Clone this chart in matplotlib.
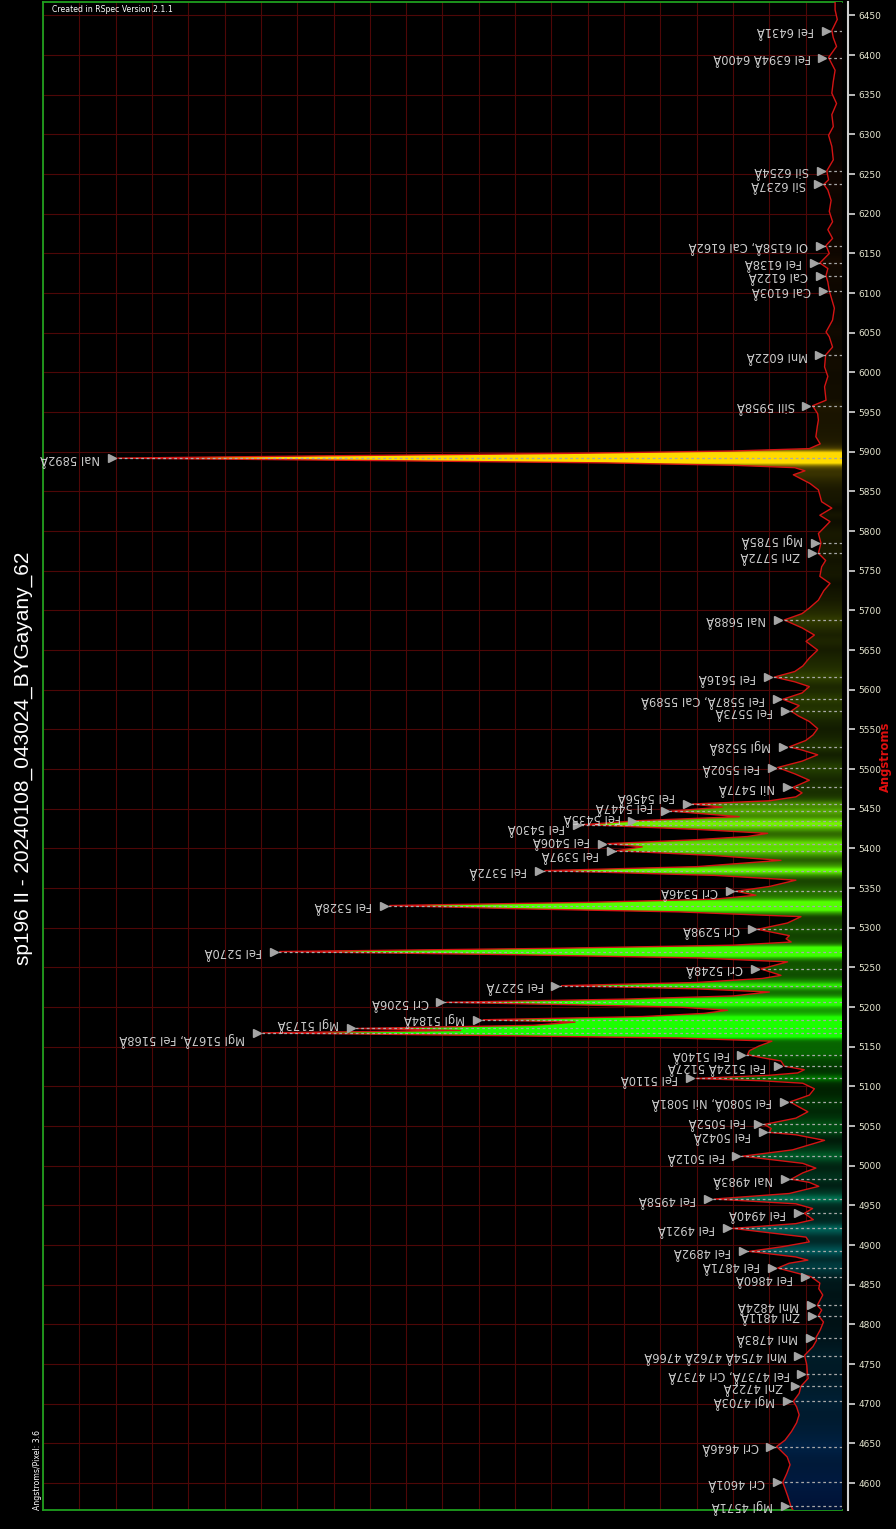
import numpy as np
import matplotlib
matplotlib.use("Agg")
import matplotlib.pyplot as plt
from matplotlib.patches import Polygon

# ---------------------------------------------------------------------------
# Spectrum profile: wavelength (Angstrom) and relative intensity
# ---------------------------------------------------------------------------
WAVELENGTH = [
    4566, 4571, 4583, 4601, 4612, 4623, 4633, 4646, 4654, 4665, 4676, 4686,
    4696, 4703, 4713, 4722, 4732, 4737, 4749, 4755, 4761, 4772, 4780, 4783,
    4793, 4803, 4811, 4818, 4824, 4837, 4845, 4852, 4860, 4865, 4871, 4877,
    4881, 4885, 4892, 4898, 4904, 4910, 4921, 4927, 4932, 4940, 4946, 4952,
    4958, 4965, 4974, 4979, 4983, 4991, 4997, 5003, 5012, 5020, 5032, 5039,
    5042, 5047, 5052, 5060, 5068, 5074, 5080.5, 5089, 5097, 5104, 5107, 5110,
    5114, 5117, 5121, 5125.5, 5132, 5136, 5140, 5145, 5151, 5157, 5161, 5164,
    5167.5, 5170.5, 5173, 5177, 5181, 5184, 5188, 5192, 5196, 5200, 5203,
    5206, 5210, 5214, 5219, 5223, 5227, 5231, 5236, 5240, 5248, 5257, 5262,
    5266, 5270, 5274, 5278, 5282, 5286, 5290, 5298, 5306, 5314, 5320, 5324,
    5328, 5332, 5336, 5341, 5346, 5352, 5360, 5366, 5372, 5377, 5385, 5391,
    5397, 5402, 5406, 5411, 5415, 5419, 5424, 5430, 5435, 5440, 5447, 5452,
    5456, 5460, 5465, 5470, 5477, 5486, 5494, 5502, 5510, 5518, 5524, 5528,
    5536, 5543, 5551, 5560, 5567, 5573, 5580, 5588, 5596, 5604, 5610, 5616,
    5623, 5630, 5640, 5650, 5661, 5669, 5678, 5688, 5696, 5703, 5713, 5725,
    5734, 5743, 5755, 5763, 5772, 5785, 5797, 5812, 5820, 5829, 5837, 5852,
    5860, 5871, 5876, 5880, 5883, 5886, 5889, 5892, 5895, 5898, 5901, 5904,
    5910, 5919, 5932, 5940, 5948, 5958, 5965, 5982, 5995, 6007, 6022, 6032,
    6045, 6051, 6066, 6081, 6095, 6103, 6114, 6122, 6131, 6138, 6150, 6160,
    6169, 6180, 6190, 6203, 6217, 6230, 6237, 6243, 6254, 6268, 6285, 6299,
    6310, 6325, 6339, 6352, 6367, 6381, 6397, 6411, 6422, 6431, 6445, 6457,
    6467,
]
INTENSITY = [
    0.135, 0.141, 0.149, 0.163, 0.152, 0.143, 0.151, 0.180, 0.157, 0.139, 0.125, 0.118,
    0.125, 0.134, 0.118, 0.113, 0.093, 0.095, 0.097, 0.100, 0.103, 0.080, 0.070, 0.072,
    0.060, 0.051, 0.065, 0.056, 0.068, 0.053, 0.064, 0.061, 0.085, 0.127, 0.177, 0.146,
    0.094, 0.127, 0.255, 0.163, 0.090, 0.099, 0.301, 0.127, 0.079, 0.104, 0.081, 0.127,
    0.352, 0.145, 0.064, 0.090, 0.140, 0.108, 0.072, 0.108, 0.274, 0.136, 0.048, 0.127,
    0.200, 0.195, 0.214, 0.127, 0.094, 0.118, 0.143, 0.090, 0.076, 0.108, 0.218, 0.402,
    0.200, 0.122, 0.104, 0.159, 0.168, 0.218, 0.260, 0.255, 0.228, 0.193, 0.450, 0.950,
    1.594, 1.050, 1.336, 0.850, 0.735, 0.988, 0.550, 0.380, 0.315, 0.450, 0.750,
    1.089, 0.600, 0.300, 0.200, 0.400, 0.772, 0.400, 0.220, 0.168, 0.223, 0.150, 0.400,
    0.900, 1.548, 0.800, 0.300, 0.140, 0.154, 0.145, 0.232, 0.150, 0.113, 0.450, 0.900,
    1.245, 0.700, 0.350, 0.237, 0.292, 0.200, 0.127, 0.350, 0.818, 0.400, 0.168, 0.350,
    0.620, 0.550, 0.645, 0.400, 0.260, 0.205, 0.400, 0.712, 0.560, 0.283, 0.471, 0.330,
    0.411, 0.200, 0.127, 0.110, 0.135, 0.090, 0.130, 0.177, 0.110, 0.067, 0.110, 0.145,
    0.100, 0.080, 0.067, 0.090, 0.120, 0.140, 0.118, 0.163, 0.110, 0.090, 0.130, 0.186,
    0.130, 0.108, 0.090, 0.067, 0.099, 0.076, 0.110, 0.159, 0.110, 0.090, 0.065, 0.050,
    0.033, 0.061, 0.056, 0.045, 0.065, 0.058, 0.065, 0.033, 0.061, 0.028, 0.056, 0.065,
    0.088, 0.134, 0.102, 0.130, 0.300, 0.650, 1.300, 1.994, 1.400, 0.750, 0.300, 0.090,
    0.060, 0.072, 0.068, 0.065, 0.067, 0.081, 0.044, 0.048, 0.039, 0.048, 0.045, 0.026,
    0.035, 0.044, 0.026, 0.021, 0.030, 0.035, 0.039, 0.044, 0.039, 0.061, 0.035, 0.044,
    0.026, 0.039, 0.026, 0.035, 0.030, 0.039, 0.050, 0.037, 0.042, 0.024, 0.028, 0.037,
    0.024, 0.028, 0.015, 0.028, 0.024, 0.019, 0.037, 0.015, 0.024, 0.028, 0.013, 0.019,
    0.019,
]

# Identified lines: position (Angstrom) and label
LINE_WL = [
    4571, 4601, 4646, 4703, 4722, 4737, 4760.7, 4783, 4811, 4824, 4860, 4871,
    4892, 4921, 4940, 4958, 4983, 5012, 5042, 5052, 5080.5, 5110, 5125.5, 5140,
    5167.5, 5173, 5184, 5206, 5227, 5248, 5270, 5298, 5328, 5346, 5372, 5397,
    5406, 5430, 5435, 5447, 5456, 5477, 5502, 5528, 5573, 5588, 5616, 5688,
    5772, 5785, 5892, 5958, 6022, 6103, 6122, 6138, 6160, 6237, 6254, 6397,
    6431,
]
LINE_NAMES = [
    "MgI 4571Å", "CrI 4601Å", "CrI 4646Å", "MgI 4703Å", "ZnI 4722Å",
    "FeI 4737Å, CrI 4737Å", "MnI 4754Å 4762Å 4766Å", "MnI 4783Å", "ZnI 4811Å",
    "MnI 4824Å", "FeI 4860Å", "FeI 4871Å", "FeI 4892Å", "FeI 4921Å", "FeI 4940Å",
    "FeI 4958Å", "NaI 4983Å", "FeI 5012Å", "FeI 5042Å", "FeI 5052Å",
    "FeI 5080Å, NiI 5081Å", "FeI 5110Å", "FeI 5124Å 5127Å", "FeI 5140Å",
    "MgI 5167Å, FeI 5168Å", "MgI 5173Å", "MgI 5184Å", "CrI 5206Å", "FeI 5227Å",
    "CrI 5248Å", "FeI 5270Å", "CrI 5298Å", "FeI 5328Å", "CrI 5346Å", "FeI 5372Å",
    "FeI 5397Å", "FeI 5406Å", "FeI 5430Å", "FeI 5435Å", "FeI 5447Å", "FeI 5456Å",
    "NiI 5477Å", "FeI 5502Å", "MgI 5528Å", "FeI 5573Å", "FeI 5587Å, CaI 5589Å",
    "FeI 5616Å", "NaI 5688Å", "ZnI 5772Å", "MgI 5785Å", "NaI 5892Å", "SiII 5958Å",
    "MnI 6022Å", "CaI 6103Å", "CaI 6122Å", "FeI 6138Å", "OI 6158Å, CaI 6162Å",
    "SiI 6237Å", "SiI 6254Å", "FeI 6394Å 6400Å", "FeI 6431Å",
]

WL_TICKS = list(range(4600, 6451, 50))
TITLE = "sp196 II - 20240108_043024_BYGayany_62"

# vertical text shifts (points) that keep crowded labels apart
LABEL_SHIFT = {4860: -1.5, 4871: 1.5, 5042: -2, 5052: 2, 5167.5: -5, 5173: 3,
               5397: -2.5, 5406: 2, 5430: -2, 5435: 2, 5447: 3.5, 5456: 5.5,
               5772: -1.5, 5785: 1.5}

# ---------------------------------------------------------------------------
wl = np.asarray(WAVELENGTH, float)
inten = np.asarray(INTENSITY, float)
WL_MIN, WL_MAX = 4566, 6467
I_MAX = 2.2

W, H = 896, 1529
fig = plt.figure(figsize=(W / 100, H / 100), dpi=100, facecolor="black")
ax = fig.add_axes([43 / W, 19 / H, (842 - 43) / W, (1510 - 2) / H])
ax.set_facecolor("black")


def spectral_rgb(nm):
    """Approximate visible colour for a wavelength in nm."""
    nm = np.asarray(nm, float)
    r = np.zeros_like(nm)
    g = np.zeros_like(nm)
    b = np.zeros_like(nm)
    m = nm < 440
    r[m], b[m] = (440 - nm[m]) / 60, 1
    m = (nm >= 440) & (nm < 490)
    g[m], b[m] = (nm[m] - 440) / 50, 1
    m = (nm >= 490) & (nm < 510)
    g[m], b[m] = 1, (510 - nm[m]) / 20
    m = (nm >= 510) & (nm < 580)
    r[m], g[m] = (nm[m] - 510) / 70, 1
    m = (nm >= 580) & (nm < 645)
    r[m], g[m] = 1, (645 - nm[m]) / 65
    m = nm >= 645
    r[m] = 1
    return np.clip(np.stack([r, g, b], axis=-1), 0, 1)


def smooth(values, step, sigma):
    half = int(4 * sigma / step)
    k = np.exp(-0.5 * (np.arange(-half, half + 1) * step / sigma) ** 2)
    k /= k.sum()
    padded = np.pad(values, half, mode="edge")
    return np.convolve(padded, k, mode="valid")


# colour strip under the curve: hue from wavelength, brightness from intensity
step = 0.5
grid_wl = np.arange(WL_MIN, WL_MAX + step, step)
row_i = np.interp(grid_wl, wl, inten)
bright = np.clip(1.2 * smooth(row_i, step, 1.5) + 0.35 * smooth(row_i, step, 9.0), 0, 1)
strip = spectral_rgb(grid_wl / 10.0) * bright[:, None]
im = ax.imshow(strip[:, None, :], extent=(0, I_MAX, WL_MIN, WL_MAX + step),
               origin="lower", aspect="auto", interpolation="bilinear", zorder=2)
verts = [(0, wl[0])] + list(zip(inten, wl)) + [(0, wl[-1])]
clip = Polygon(verts, closed=True, facecolor="none", edgecolor="none",
               transform=ax.transData)
ax.add_patch(clip)
im.set_clip_path(clip)

# spectrum trace
ax.plot(inten, wl, color="#d41414", lw=1.0, zorder=3)

# line identifications
for w_line, name in zip(LINE_WL, LINE_NAMES):
    x_tri = np.interp(w_line, wl, inten) + 0.017
    ax.plot([0, x_tri], [w_line, w_line], color="#a8a8a8", lw=0.9,
            linestyle=(0, (2.2, 2.2)), zorder=4)
    ax.plot(x_tri, w_line, marker=">", ms=5.5, color="#a4a4a4",
            linestyle="none", zorder=5, clip_on=False)
    ax.annotate(name, xy=(x_tri, w_line),
                xytext=(-8.5, LABEL_SHIFT.get(w_line, 0)),
                textcoords="offset points", rotation=180, ha="right",
                va="center", fontsize=8.3, color="#cdcdcd",
                family="DejaVu Sans", zorder=6, annotation_clip=False)

# axes, grid and frame
ax.set_xlim(I_MAX, 0)
ax.set_ylim(WL_MIN, WL_MAX)
ax.set_xticks(np.arange(0, I_MAX + 0.01, 0.1))
ax.set_yticks(WL_TICKS)
ax.set_axisbelow(True)
ax.grid(True, color="#4e0707", lw=0.8)
ax.tick_params(axis="x", length=0, labelbottom=False)
ax.yaxis.tick_right()
ax.tick_params(axis="y", direction="out", length=5, width=1.2,
               color="#d8d8d8", pad=2.5, labelsize=6.5, labelcolor="#e6e6d0")
for lab in ax.get_yticklabels():
    lab.set_rotation(90)
    lab.set_va("center")
    lab.set_fontweight("bold")

for side in ("left", "top", "bottom"):
    ax.spines[side].set_color("#1f9f1f")
    ax.spines[side].set_linewidth(1.3)
    ax.spines[side].set_zorder(1.5)
ax.spines["right"].set_position(("outward", 4.3))
ax.spines["right"].set_color("#d0d0d0")
ax.spines["right"].set_linewidth(1.5)

# captions
fig.text(23.5 / W, 1 - 758 / H, TITLE, rotation=90, ha="center", va="center",
         color="white", fontsize=15, family="Liberation Sans")
fig.text(885 / W, 1 - 757 / H, "Angstroms", rotation=90, ha="center",
         va="center", color="#e01010", fontsize=8.3, fontweight="bold")
fig.text(52 / W, 1 - 9 / H, "Created in RSpec Version 2.1.1", ha="left",
         va="center", color="white", fontsize=5.6)
fig.text(37 / W, 1 - 1510 / H, "Angstroms/Pixel: 3.6", rotation=90,
         ha="center", va="bottom", color="white", fontsize=5.6)

fig.savefig("out.png", dpi=100, facecolor="black")
